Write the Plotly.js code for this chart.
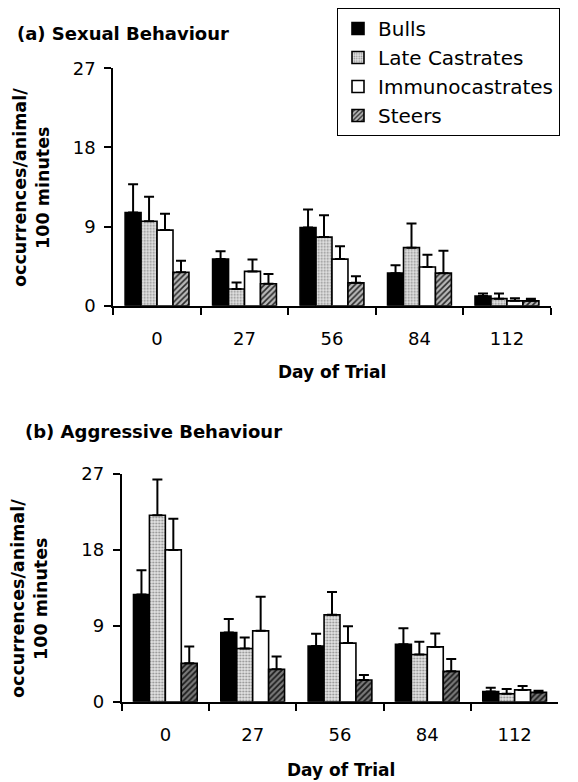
<!DOCTYPE html>
<html>
<head>
<meta charset="utf-8">
<script src="https://cdn.plot.ly/plotly-3.0.1.min.js"></script>
<style>html,body{margin:0;padding:0;background:#fff;}#chart{width:578px;height:782px;}</style>
</head>
<body>
<div id="chart"></div>
<script>
// ---- data ----
const days = ['0', '27', '56', '84', '112'];
const groups = ['Bulls', 'Late Castrates', 'Immunocastrates', 'Steers'];

// (a) Sexual behaviour: means and upper SE
const sexBulls = [10.6, 5.3, 8.9, 3.7, 1.1];
const sexLate = [9.6, 1.9, 7.8, 6.6, 0.8];
const sexImmuno = [8.6, 3.9, 5.3, 4.4, 0.55];
const sexSteers = [3.8, 2.5, 2.6, 3.7, 0.55];
const sexBullsErr = [3.2, 0.9, 2.05, 0.9, 0.3];
const sexLateErr = [2.8, 0.75, 2.5, 2.75, 0.6];
const sexImmunoErr = [1.85, 1.35, 1.45, 1.4, 0.3];
const sexSteersErr = [1.3, 1.1, 0.75, 2.55, 0.25];

// (b) Aggressive behaviour: means and upper SE
const aggBulls = [12.7, 8.2, 6.6, 6.8, 1.2];
const aggLate = [22.1, 6.3, 10.3, 5.6, 0.95];
const aggImmuno = [18.0, 8.4, 6.95, 6.5, 1.4];
const aggSteers = [4.55, 3.85, 2.57, 3.6, 1.1];
const aggBullsErr = [2.9, 1.6, 1.45, 1.9, 0.45];
const aggLateErr = [4.25, 1.3, 2.7, 1.5, 0.55];
const aggImmunoErr = [3.7, 4.05, 2.0, 1.6, 0.45];
const aggSteersErr = [2.0, 1.5, 0.6, 1.45, 0.2];

const yTicks = [0, 9, 18, 27];

// ---- styles ----
const FONT = 'DejaVu Sans';
const styles = [
  {color: '#000000'},
  {color: '#d8d8d8', pattern: {shape: '.', fgcolor: '#8a8a8a', bgcolor: '#e4e4e4', size: 3, solidity: 0.3}},
  {color: '#ffffff'},
  {color: '#aaaaaa', pattern: {shape: '/', fgcolor: '#2a2a2a', bgcolor: '#b8b8b8', size: 4, solidity: 0.4}}
];
const stylesB = [
  styles[0], styles[1], styles[2],
  {color: '#777777', pattern: {shape: '/', fgcolor: '#1a1a1a', bgcolor: '#7a7a7a', size: 4, solidity: 0.45}}
];

function barTrace(name, y, err, i, xa, ya, showlegend, st) {
  const marker = {color: st[i].color, line: {color: '#000', width: 1.6}};
  if (st[i].pattern) marker.pattern = st[i].pattern;
  return {
    type: 'bar', name: name, x: days, y: y,
    xaxis: xa, yaxis: ya, showlegend: showlegend, legendgroup: name,
    marker: marker,
    error_y: {type: 'data', symmetric: false, array: err, arrayminus: err.map(() => 0),
              color: '#000', thickness: 2, width: 5}
  };
}

const sexY = [sexBulls, sexLate, sexImmuno, sexSteers];
const sexE = [sexBullsErr, sexLateErr, sexImmunoErr, sexSteersErr];
const aggY = [aggBulls, aggLate, aggImmuno, aggSteers];
const aggE = [aggBullsErr, aggLateErr, aggImmunoErr, aggSteersErr];

const traces = [];
groups.forEach((g, i) => traces.push(barTrace(g, sexY[i], sexE[i], i, 'x', 'y', true, styles)));
groups.forEach((g, i) => traces.push(barTrace(g, aggY[i], aggE[i], i, 'x2', 'y2', false, stylesB)));

const W = 578, H = 782;
const px = v => v / W;
const py = v => 1 - v / H;

function xAxis(dom, anchor) {
  return {
    domain: dom, anchor: anchor, type: 'category', categoryorder: 'array', categoryarray: days,
    range: [-0.5, 4.5], tickson: 'boundaries', ticks: 'outside', ticklen: 7, tickwidth: 2,
    tickcolor: '#000', showline: true, linewidth: 2, linecolor: '#000', showgrid: false,
    zeroline: false, tickfont: {family: FONT, size: 18, color: '#000'}, ticklabelstandoff: 16,
    fixedrange: true
  };
}
function yAxis(dom, anchor) {
  return {
    domain: dom, anchor: anchor, range: [0, 27], tickvals: yTicks, ticktext: yTicks.map(String),
    ticks: 'outside', ticklen: 7, tickwidth: 2, tickcolor: '#000', showline: true, linewidth: 2,
    linecolor: '#000', showgrid: false, zeroline: false,
    tickfont: {family: FONT, size: 18, color: '#000'}, ticklabelstandoff: 5, fixedrange: true
  };
}
function xOverlay(over, anchor) {
  return {overlaying: over, anchor: anchor, range: [-0.5, 4.5], tickvals: [-0.5, 0.5, 1.5, 2.5, 3.5, 4.5],
    ticks: 'inside', ticklen: 7, tickwidth: 2, tickcolor: '#000', showticklabels: false,
    showline: false, showgrid: false, zeroline: false, fixedrange: true};
}
function yOverlay(over, anchor) {
  return {overlaying: over, anchor: anchor, range: [0, 27], tickvals: yTicks,
    ticks: 'inside', ticklen: 6, tickwidth: 2, tickcolor: '#000', showticklabels: false,
    showline: false, showgrid: false, zeroline: false, fixedrange: true};
}

const bold = (t, size, x, y, xanchor, angle) => ({
  text: '<b>' + t + '</b>', xref: 'paper', yref: 'paper', x: x, y: y,
  xanchor: xanchor, yanchor: 'middle', showarrow: false, textangle: angle || 0,
  font: {family: FONT, size: size, color: '#000'}
});

const layout = {
  width: W, height: H,
  margin: {l: 0, r: 0, t: 0, b: 0},
  paper_bgcolor: '#fff', plot_bgcolor: 'rgba(0,0,0,0)',
  barmode: 'group', bargap: 0.27, bargroupgap: 0,
  font: {family: FONT, color: '#000'},
  xaxis: xAxis([px(113.3), px(550.7)], 'y'),
  yaxis: yAxis([py(305.7), py(68.3)], 'x'),
  xaxis2: xAxis([px(121.7), px(558.3)], 'y2'),
  yaxis2: yAxis([py(701.7), py(474)], 'x2'),
  xaxis3: xOverlay('x', 'y'),
  yaxis3: yOverlay('y', 'x'),
  xaxis4: xOverlay('x2', 'y2'),
  yaxis4: yOverlay('y2', 'x2'),
  legend: {
    x: px(337), y: py(8), xanchor: 'left', yanchor: 'top',
    bgcolor: '#fff', bordercolor: '#000', borderwidth: 1,
    entrywidth: 205, entrywidthmode: 'pixels',
    font: {family: FONT, size: 20, color: '#000'}, traceorder: 'normal'
  },
  annotations: [
    bold('(a) Sexual Behaviour', 18, px(15), py(33), 'left'),
    bold('(b) Aggressive Behaviour', 18, px(22.7), py(431.7), 'left'),
    bold('occurrences/animal/<br>100 minutes', 17.5, px(31), py(188), 'center', -90),
    bold('occurrences/animal/<br>100 minutes', 17.5, px(29), py(599), 'center', -90),
    bold('Day of Trial', 17, px(332), py(372), 'center'),
    bold('Day of Trial', 17, px(340.5), py(770), 'center')
  ]
};

Plotly.newPlot('chart', traces, layout, {staticPlot: true, displayModeBar: false});
</script>
</body>
</html>
